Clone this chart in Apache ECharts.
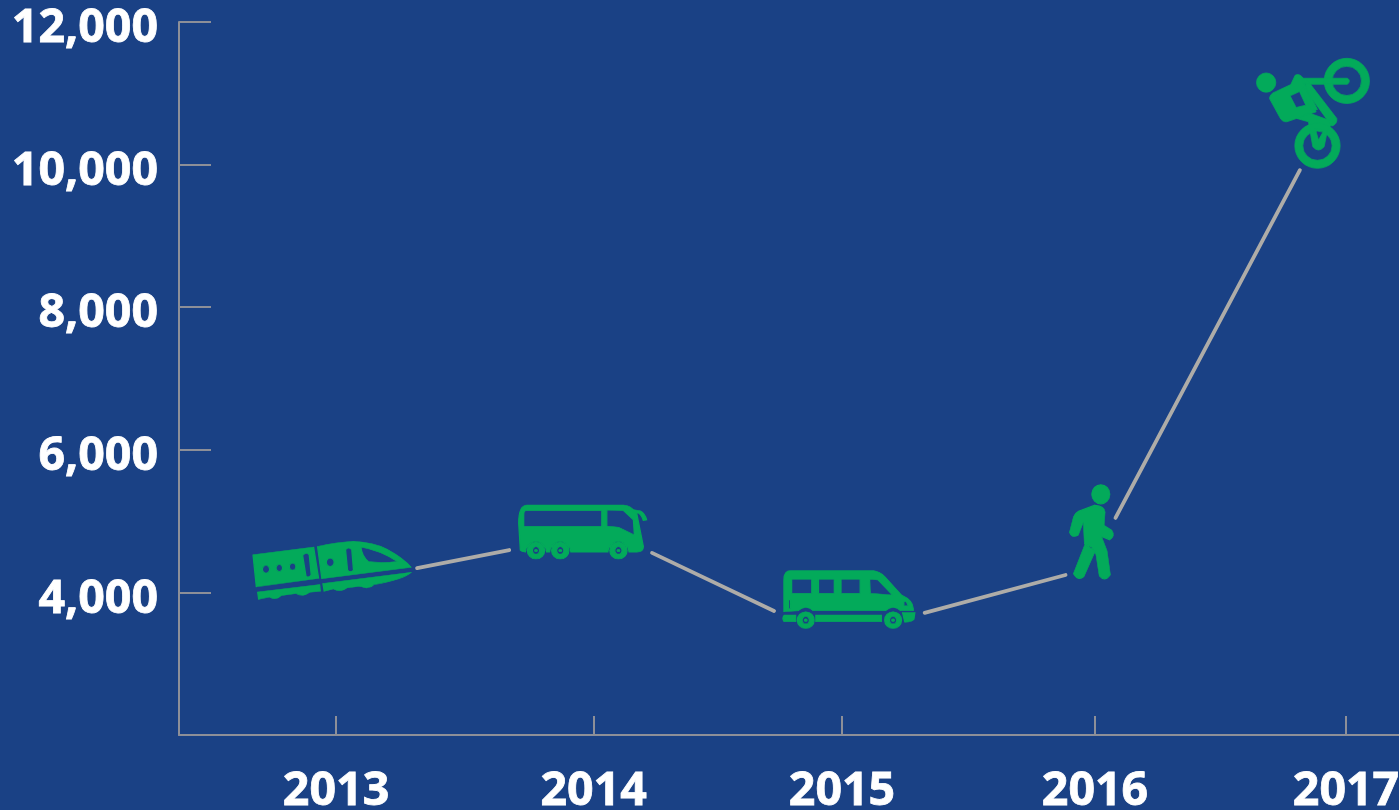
<!DOCTYPE html>
<html>
<head>
<meta charset="utf-8">
<style>
  html, body { margin: 0; padding: 0; background: #1a4185; overflow: hidden; }
  #chart { width: 1399px; height: 810px; }
</style>
<script src="https://cdn.jsdelivr.net/npm/echarts@6/dist/echarts.min.js"></script>
</head>
<body>
<div id="chart"></div>
<script>
// Tick positions and labels on the year axis
const tickYears = [2013, 2014.02, 2015.004, 2016.006, 2017];
const yearLabels = ['2013', '2014', '2015', '2016', '2017'];

// Yearly figures
const pointYears = [2013, 2014.07, 2014.96, 2015.98, 2017];
const pointValues = [4120, 4860, 3360, 4330, 11140];

// Each connecting segment is cut short so that it clears the icons at both ends
const segmentStart = [0.30, 0.204, 0.364, 0.105];
const segmentEnd = [0.641, 0.747, 0.911, 0.821];

const GREEN = '#03aa5a';
const GREY = '#aeaca8';
const AXIS = '#8d8f98';

// Shape helpers: outlines run clockwise, holes counter-clockwise
function disc(cx, cy, r) {
  return `M${cx - r},${cy}A${r},${r} 0 1 1 ${cx + r},${cy}A${r},${r} 0 1 1 ${cx - r},${cy}Z`;
}
function hole(cx, cy, r) {
  return `M${cx - r},${cy}A${r},${r} 0 1 0 ${cx + r},${cy}A${r},${r} 0 1 0 ${cx - r},${cy}Z`;
}
function wheel(cx, cy, r, inner, hub) {
  return disc(cx, cy, r) + hole(cx, cy, inner) + (hub ? disc(cx, cy, hub) : '');
}

const trainIcon = 'path://' + [
  // rear car
  'M38,195L220,172L235,265L48,290Z',
  hole(77, 238, 11), hole(117, 234, 10), hole(157, 230, 10),
  'M187,197L197,258Q205,264 213,255L207,195Q197,186 187,197Z',
  // front car and windscreen
  'M232,170Q290,158 340,155Q400,158 440,178Q490,205 513,232L245,266Z',
  'M362,172Q365,200 385,215Q420,220 472,215Q420,182 362,172Z',
  hole(270, 217, 12),
  'M316,180L322,240Q330,248 340,240L335,180Q325,170 316,180Z',
  // skirt and bogies
  'M248,280L513,247Q490,268 400,284Q385,300 360,288L320,293Q300,308 280,296L252,303Z',
  'M52,305L238,283L240,303L208,306Q190,322 168,310L122,316Q105,332 88,320L55,327Z'
].join('');

const busIcon = 'path://' + [
  'M45,182L40,100Q40,45 65,45L355,45Q375,45 395,70L415,170Q415,187 395,187L372,187',
  'A32,32 0 0 0 308,187L197,187A32,32 0 0 0 133,187L124,187A32,32 0 0 0 60,187Q50,187 45,182Z',
  'M62,62Q55,62 55,75L55,110L290,110L290,62Z',
  'M305,60L305,108L340,112L388,135L385,90L355,62Z',
  'M382,58L405,62Q420,70 425,90L415,92Q410,75 400,70L386,68Z',
  wheel(92, 182, 26, 11, 4), wheel(165, 182, 26, 11, 4), wheel(340, 182, 26, 11, 4)
].join('');

const vanIcon = 'path://' + [
  'M45,155L45,60Q45,32 65,32L310,32Q330,35 345,50L395,105Q428,120 430,145L430,152L392,152',
  'A30,30 0 0 0 348,152L132,152A30,30 0 0 0 88,152Z',
  'M68,58L68,100L128,100L128,58Z',
  'M148,58L148,100L195,100L195,58Z',
  'M215,58L215,100L272,100L272,58Z',
  'M300,58L302,100L368,105L325,60Z',
  'M402,124L402,136L416,138L410,126Z',
  'M59,120L59,145L65,145L65,120Z',
  // bumpers and sill
  'M140,165L335,165L335,185L140,185Z',
  'M46,165L80,165L80,185L46,185Q38,175 46,165Z',
  'M398,157L435,157L432,178Q425,186 405,186Z',
  wheel(110, 180, 25, 11, 4), wheel(370, 180, 25, 11, 4)
].join('');

const walkerIcon = 'path://' + [
  disc(153, 58, 28),
  'M85,108L135,90Q165,92 166,110L163,150L187,165Q198,180 180,192L155,182L172,225L182,295Q165,318 148,298L138,235L125,213L103,203L100,140L85,178Q65,188 58,170L70,125Q74,114 85,108Z',
  'M105,205L136,226L102,300Q85,315 70,292Z'
].join('');

const bikeIcon = 'path://' + [
  disc(78, 97, 29),
  wheel(320, 92, 68, 44, 0),
  wheel(232, 287, 68, 44, 0),
  // torso and arm, with the gap between arm and body
  'M88,145Q90,130 105,125L152,103L165,75Q178,68 190,85L200,120L215,160L228,185L140,215Q125,216 118,200Z',
  'M150,137L168,172L197,165L178,124Z',
  // handlebar
  'M185,84L322,84Q333,92 322,102L190,102Z',
  // main tube to the crank and the seat tube
  'M200,88L290,205Q292,222 275,228L262,210L195,118Z',
  'M195,105L232,178L216,182L182,118Z',
  // lower frame and the V down to the axle
  'M170,205L205,188L280,215L262,240L252,290Q235,310 218,290L205,215Z',
  'M225,235L235,270L252,240Z'
].join('');

const icons = [trainIcon, busIcon, vanIcon, walkerIcon, bikeIcon];
const iconSizes = [[158, 58], [128, 54], [132, 58], [44, 94], [113, 110]];
const iconOffsets = [[-4, -13.5], [-23.5, 1], [18, -38.5], [3, -37], [-33, 30]];

const chart = echarts.init(document.getElementById('chart'), null, { renderer: 'canvas' });

const labelFont = {
  color: '#ffffff',
  fontFamily: '"Open Sans", "Noto Sans", sans-serif',
  fontWeight: 700,
  fontSize: 46.5,
  textBorderColor: '#ffffff',
  textBorderWidth: 0.8
};

chart.setOption({
  animation: false,
  backgroundColor: '#1a4185',
  grid: { left: 179, right: 0, top: 22, bottom: 75, containLabel: false, outerBoundsMode: 'none' },
  xAxis: {
    type: 'value',
    min: 2012.378,
    max: 2017.21,
    axisLine: { show: true, onZero: false, lineStyle: { color: AXIS, width: 2 } },
    axisTick: {
      show: true, inside: true, length: 19, customValues: tickYears,
      lineStyle: { color: AXIS, width: 2 }
    },
    axisLabel: {
      ...labelFont, show: true, margin: 33, customValues: tickYears,
      showMinLabel: true, showMaxLabel: true, hideOverlap: false,
      formatter: value => yearLabels[tickYears.indexOf(value)]
    },
    splitLine: { show: false }
  },
  yAxis: {
    type: 'value',
    min: 2000,
    max: 12000,
    interval: 2000,
    axisLine: { show: true, onZero: false, lineStyle: { color: AXIS, width: 2 } },
    axisTick: { show: true, inside: true, length: 32, lineStyle: { color: AXIS, width: 2 } },
    axisLabel: {
      ...labelFont, margin: 21, verticalAlign: 'top', lineHeight: 14,
      formatter: v => (v === 2000 ? '' : v.toLocaleString('en-US'))
    },
    splitLine: { show: false }
  },
  series: [
    {
      // Grey connectors between consecutive years, trimmed around the icons
      type: 'custom',
      silent: true,
      clip: false,
      data: pointYears.slice(0, -1).map((y, i) => [y, pointValues[i], pointYears[i + 1], pointValues[i + 1]]),
      renderItem(params, api) {
        const a = api.coord([api.value(0), api.value(1)]);
        const b = api.coord([api.value(2), api.value(3)]);
        const s = segmentStart[params.dataIndex];
        const e = segmentEnd[params.dataIndex];
        return {
          type: 'line',
          shape: {
            x1: a[0] + (b[0] - a[0]) * s, y1: a[1] + (b[1] - a[1]) * s,
            x2: a[0] + (b[0] - a[0]) * e, y2: a[1] + (b[1] - a[1]) * e
          },
          style: { stroke: GREY, lineWidth: 3.8, lineCap: 'round' }
        };
      }
    },
    {
      // One transport icon per year
      type: 'scatter',
      silent: true,
      clip: false,
      itemStyle: { color: GREEN, opacity: 1, borderColor: GREEN, borderWidth: 0.8 },
      data: pointYears.map((y, i) => ({
        value: [y, pointValues[i]],
        symbol: icons[i],
        symbolSize: iconSizes[i],
        symbolOffset: iconOffsets[i]
      }))
    }
  ]
});
</script>
</body>
</html>
